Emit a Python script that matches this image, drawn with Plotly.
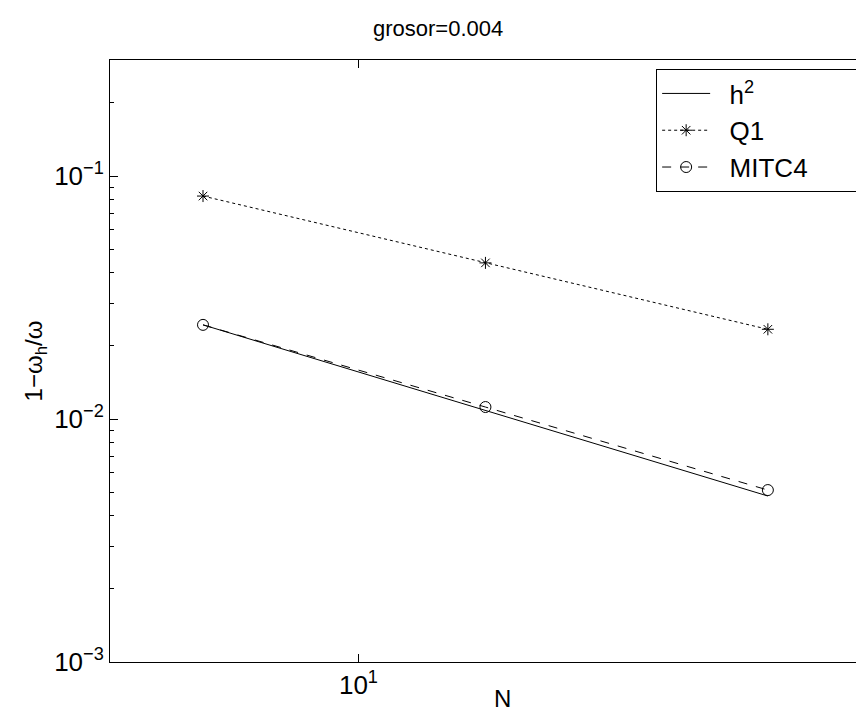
import plotly.graph_objects as go

N = [8, 12, 18]
h2 = [0.0244, 0.01084, 0.00482]
q1 = [0.0827, 0.0439, 0.0234]
mitc4 = [0.0244, 0.0112, 0.0051]

xtick_vals = [10]
xtick_text = ["10<sup>1</sup>"]
ytick_vals = [0.001, 0.01, 0.1]
ytick_text = ["10<sup>−3</sup>", "10<sup>−2</sup>", "10<sup>−1</sup>"]
yminor_vals = [m * 10.0 ** e for e in (-3, -2, -1) for m in range(2, 10)]

FONT = "Liberation Sans"
NB = "\u00a0"

fig = go.Figure()
fig.add_trace(go.Scatter(x=N, y=h2, mode="lines", name=NB * 2 + "h<sup>2</sup>",
                         line=dict(color="black", width=1)))
fig.add_trace(go.Scatter(x=N, y=q1, mode="lines+markers", name=NB * 2 + "Q1",
                         line=dict(color="black", width=1, dash="dot"),
                         marker=dict(symbol="asterisk-open", size=10,
                                     line=dict(color="black", width=1), color="black")))
fig.add_trace(go.Scatter(x=N, y=mitc4, mode="lines+markers", name=NB * 2 + "MITC4" + NB * 7,
                         line=dict(color="black", width=1, dash="dash"),
                         marker=dict(symbol="circle-open", size=11,
                                     line=dict(color="black", width=1), color="black")))

fig.update_layout(
    width=864, height=712,
    margin=dict(l=102, r=0, t=52, b=58, autoexpand=False),
    paper_bgcolor="white", plot_bgcolor="white",
    font=dict(family=FONT, size=24, color="black"),
    showlegend=True,
    legend=dict(x=0.991, xanchor="right", y=0.985, yanchor="top",
                bordercolor="black", borderwidth=1, bgcolor="white",
                font=dict(size=26), tracegroupgap=0, itemwidth=48),
    xaxis=dict(type="log", range=[0.845098, 1.3202], showline=True, linecolor="black",
               linewidth=1, mirror="ticks", ticks="inside", ticklen=8, tickcolor="black",
               tickvals=xtick_vals, ticktext=xtick_text, showgrid=False, zeroline=False,
               tickfont=dict(size=26), automargin=False),
    yaxis=dict(type="log", range=[-3, -0.5226], showline=True, linecolor="black",
               linewidth=1, mirror="ticks", ticks="inside", ticklen=8, tickcolor="black",
               tickvals=ytick_vals, ticktext=ytick_text, showgrid=False, zeroline=False,
               tickfont=dict(size=26), automargin=False,
               minor=dict(tickvals=yminor_vals, ticks="inside", ticklen=4,
                          tickcolor="black", showgrid=False),
               title=dict(text="1−ω<sub>h</sub>/ω", font=dict(size=24), standoff=4)),
    annotations=[
        dict(text="grosor=0.004", xref="paper", yref="paper", x=0.4304, y=1.0515,
             xanchor="center", yanchor="middle", showarrow=False, font=dict(size=22)),
        dict(text="N", xref="paper", yref="paper", x=0.5157, y=-0.087,
             xanchor="center", yanchor="bottom", showarrow=False, font=dict(size=24)),
    ],
)

fig.write_html("out.html")
